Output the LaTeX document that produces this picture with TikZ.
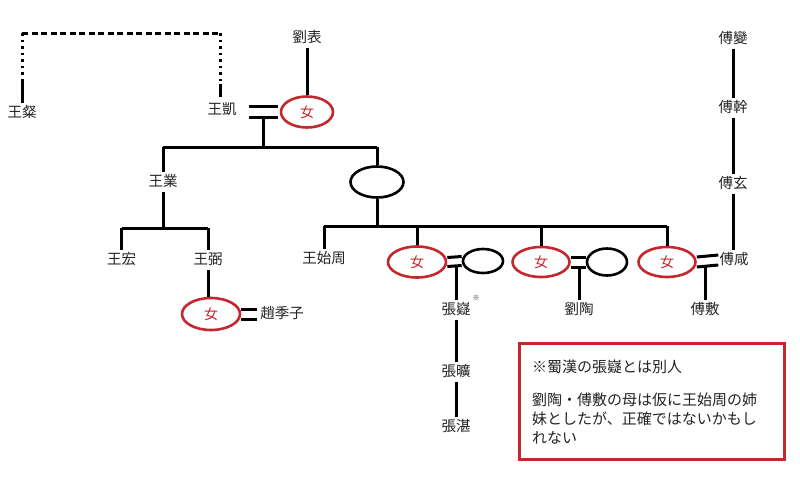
\documentclass[tikz,border=0pt]{standalone}
\usepackage{fontspec}
\setmainfont{Noto Sans CJK JP}
\usetikzlibrary{shapes.geometric}
\definecolor{kred}{RGB}{196,40,46}
\definecolor{ktext}{RGB}{35,35,35}
\tikzset{
  person/.style={font=\fontsize{14.5}{16}\selectfont, text=ktext, inner sep=3pt, text height=11pt, text depth=2pt},
  nu/.style={ellipse, draw=kred, line width=2.6pt, minimum width=#1, minimum height=31pt, inner sep=0pt, text=kred, font=\fontsize{14}{16}\selectfont},
  spouse/.style={ellipse, draw=black, line width=2.6pt, minimum width=#1, inner sep=0pt},
  rel/.style={line width=3pt, draw=black},
  notetext/.style={font=\fontsize{15}{19}\selectfont, text=ktext, inner sep=0pt, align=left, anchor=west}
}
\begin{document}
\begin{tikzpicture}[x=1pt,y=-1pt]
\useasboundingbox (0,0) rectangle (800,477);
\fill[white] (0,0) rectangle (800,477);

% people
\node[person] (wangcan) at (22,113) {王粲};
\node[person] (wangkai) at (222,110) {王凱};
\node[person] (liubiao) at (307,38) {劉表};
\node[nu=52pt] (nu1) at (307,112) {女};
\node[spouse=53pt, minimum height=31pt] (ell1) at (377,182) {};
\node[person] (wangye) at (163,182) {王業};
\node[person] (wanghong) at (121.5,260) {王宏};
\node[person] (wangbi) at (208,260) {王弼};
\node[nu=58pt, minimum height=32pt] (nu2) at (211,314) {女};
\node[person] (zhaojizi) at (282,314) {趙季子};
\node[person] (wangshizhou) at (324,259) {王始周};
\node[nu=58pt] (nu3) at (417,262) {女};
\node[spouse=40pt, minimum height=24pt] (ell2) at (483,261) {};
\node[person] (zhangyi) at (456,310) {張嶷};
\node[font=\fontsize{7}{8}\selectfont, text=ktext, inner sep=0pt] (zhangyinote) at (476,298) {※};
\node[person] (zhangkuang) at (456,372) {張曠};
\node[person] (zhangzhan) at (456,427) {張湛};
\node[nu=57pt, minimum height=30pt] (nu4) at (541,262) {女};
\node[spouse=40pt, minimum height=27pt] (ell3) at (607,262) {};
\node[person] (liutao) at (579,310) {劉陶};
\node[nu=57pt, minimum height=30pt] (nu5) at (667,262) {女};
\node[person] (fuxian) at (734,260) {傅咸};
\node[person] (fufu) at (705,310) {傅敷};
\node[person] (fubian) at (733,39) {傅變};
\node[person] (fugan) at (733,108) {傅幹};
\node[person] (fuxuan) at (733,184) {傅玄};

% dashed relation wangcan - wangkai
\coordinate (dl) at (22,33);
\coordinate (dr) at (220,33);
\coordinate (dlb) at (22,81);
\coordinate (drb) at (220,84);
\draw[line width=3pt, dash pattern=on 6pt off 3.5pt] (dl) -- (dr);
\draw[line width=3pt, dash pattern=on 2.5pt off 4pt] (dl) -- (dlb);
\draw[line width=3pt, dash pattern=on 2.5pt off 4pt] (dr) -- (drb);
\draw[line width=3pt] (dlb) -- (wangcan.north);
\draw[line width=3pt] (drb) -- (220,97);

% liubiao -> nu1
\draw[rel] (liubiao.south) -- (nu1.north);
% marriage wangkai = nu1
\coordinate (m1a) at (249,106); \coordinate (m1b) at (278,106);
\coordinate (m1c) at (249,117); \coordinate (m1d) at (278,117);
\draw[rel] (m1a) -- (m1b);
\draw[rel] (m1c) -- (m1d);
\coordinate (m1) at (263,117);
\coordinate (h1) at (263,147);
\coordinate (h1l) at (163,147);
\coordinate (h1r) at (377,147);
\draw[rel] (m1) -- (h1);
\draw[rel] (h1l) -- (h1r);
\draw[rel] (h1l) -- (wangye.north);
\draw[rel] (h1r) -- (ell1.north);

% wangye children
\coordinate (h2) at (163,228);
\coordinate (h2l) at (121.5,228);
\coordinate (h2r) at (208,228);
\draw[rel] (wangye.south) -- (h2);
\draw[rel] (h2l) -- (h2r);
\draw[rel] (h2l) -- (wanghong.north);
\draw[rel] (h2r) -- (wangbi.north);
\draw[rel] (wangbi.south) -- (wangbi.south |- nu2.north);
% marriage nu2 = zhaojizi
\draw[rel] ([yshift=-5pt]nu2.east) -- ([yshift=-5pt]zhaojizi.west);
\draw[rel] ([yshift=5pt]nu2.east) -- ([yshift=5pt]zhaojizi.west);

% ell1 children
\coordinate (h3) at (377,226);
\coordinate (h3a) at (324,226);
\coordinate (h3b) at (417,226);
\coordinate (h3c) at (541,226);
\coordinate (h3d) at (667,226);
\draw[rel] (ell1.south) -- (h3);
\draw[rel] (h3a) -- (h3d);
\draw[rel] (h3a) -- (wangshizhou.north);
\draw[rel] (h3b) -- (nu3.north);
\draw[rel] (h3c) -- (nu4.north);
\draw[rel] (h3d) -- (nu5.north);

% nu3 = ell2
\draw[rel] ([yshift=-4.5pt]nu3.east) -- ([yshift=-4.5pt]ell2.west);
\draw[rel] ([yshift=4.5pt]nu3.east) -- ([yshift=4.5pt]ell2.west);
\coordinate (m3) at (456,266);
\draw[rel] (m3) -- (zhangyi.north);
\draw[rel] (zhangyi.south) -- (zhangkuang.north);
\draw[rel] (zhangkuang.south) -- (zhangzhan.north);

% nu4 = ell3
\draw[rel] ([yshift=-5pt]nu4.east) -- ([yshift=-5pt]ell3.west);
\draw[rel] ([yshift=5pt]nu4.east) -- ([yshift=5pt]ell3.west);
\coordinate (m4) at (579,266);
\draw[rel] (m4) -- (liutao.north);

% nu5 = fuxian
\draw[rel] ([yshift=-5pt]nu5.east) -- ([xshift=2pt,yshift=-5pt]fuxian.west);
\draw[rel] ([yshift=5pt]nu5.east) -- ([xshift=2pt,yshift=5pt]fuxian.west);
\coordinate (m5) at (705,266);
\draw[rel] (m5) -- (fufu.north);

% fu line
\draw[rel] (fubian.south) -- (fugan.north);
\draw[rel] (fugan.south) -- (fuxuan.north);
\draw[rel] (fuxuan.south) -- (fuxuan.south |- fuxian.north);

% note box
\node[draw=kred, line width=2.6pt, minimum width=265pt, minimum height=116pt, anchor=north west, inner sep=0pt] (notebox) at (518,342) {};
\node[notetext] (note1) at (532,367) {※蜀漢の張嶷とは別人};
\node[notetext] (note2) at (532,419) {劉陶・傅敷の母は仮に王始周の姉\\妹としたが、正確ではないかもし\\れない};
\end{tikzpicture}
\end{document}
